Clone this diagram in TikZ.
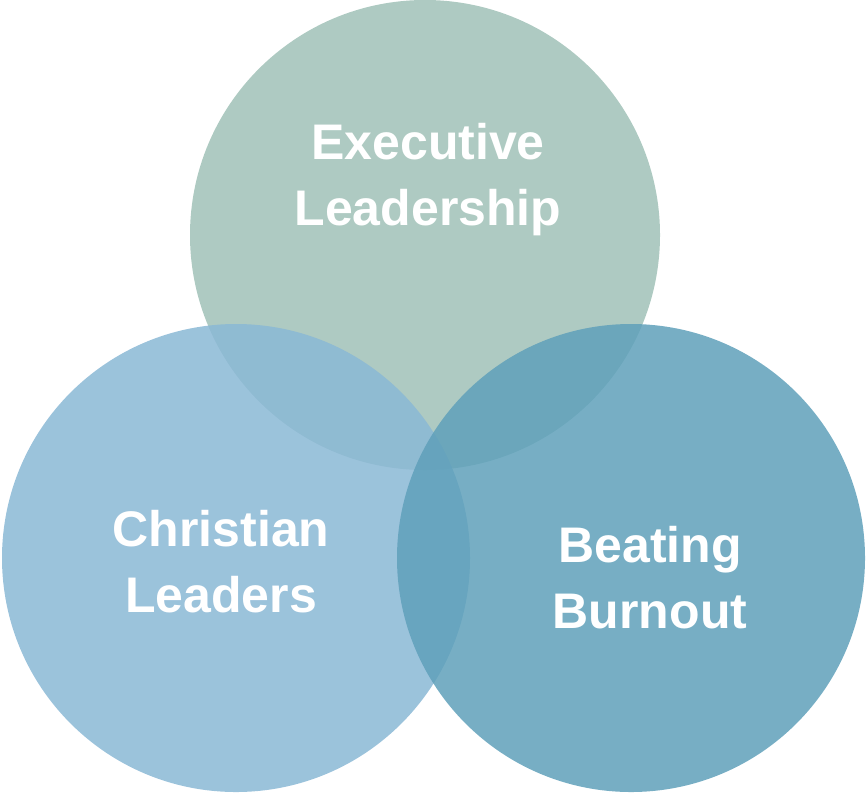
\documentclass[tikz,border=0pt]{standalone}
\usepackage{fontspec}
\setmainfont{Liberation Sans}
\begin{document}
\begin{tikzpicture}[x=1pt,y=-1pt,
  lbl/.style={text=white,font=\fontsize{50}{66}\selectfont\bfseries,align=center},
  circ/.style={fill opacity=0.85,draw=none}]
\useasboundingbox (0,0) rectangle (866,793);
\fill[circ,fill={rgb,255:red,160;green,193;blue,183}] (425,235) circle (235);
\fill[circ,fill={rgb,255:red,138;green,184;blue,213}] (236,558) circle (234);
\fill[circ,fill={rgb,255:red,95;green,160;blue,186}] (631,558) circle (234);
\node[lbl] (exec) at (428,180) {Executive\\Leadership};
\node[lbl] (chr) at (221,562) {Christian\\Leaders};
\node[lbl] (beat) at (650,578) {Beating\\Burnout};
\end{tikzpicture}
\end{document}
